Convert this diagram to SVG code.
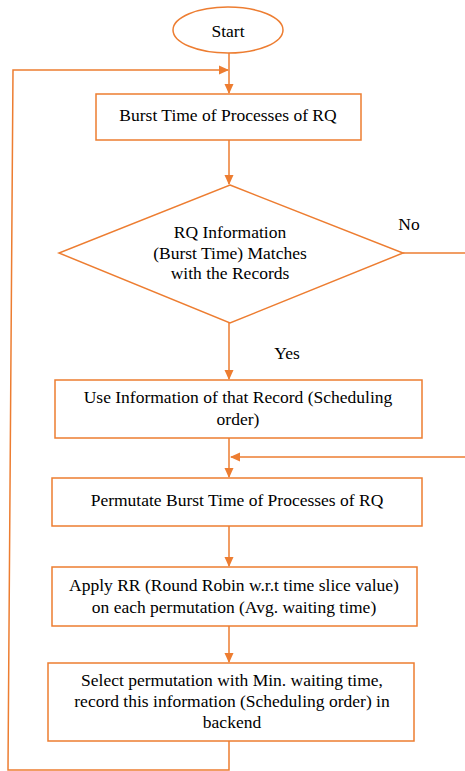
<svg xmlns="http://www.w3.org/2000/svg" width="465" height="771" viewBox="0 0 465 771">
<defs>
<marker id="ah" markerWidth="10" markerHeight="10" refX="9" refY="5" orient="auto" markerUnits="userSpaceOnUse">
<path d="M0,0.5 L10,5 L0,9.5 Z" fill="#ED7D31"/>
</marker>
</defs>
<rect width="465" height="771" fill="#fff"/>
<g id="connectors" fill="none" stroke="#ED7D31" stroke-width="1.5">
<line x1="229" y1="53" x2="229" y2="93" marker-end="url(#ah)"/>
<polyline points="229,741 229,770 8,770 13,70 228,70" marker-end="url(#ah)"/>
<line x1="229" y1="140" x2="229" y2="184" marker-end="url(#ah)"/>
<line x1="229" y1="323" x2="229" y2="379" marker-end="url(#ah)"/>
<polyline points="403,253 465,253"/>
<line x1="465" y1="457" x2="231" y2="457" marker-end="url(#ah)"/>
<line x1="229" y1="438" x2="229" y2="477" marker-end="url(#ah)"/>
<line x1="229" y1="526" x2="229" y2="566" marker-end="url(#ah)"/>
<line x1="229" y1="626" x2="229" y2="662" marker-end="url(#ah)"/>
</g>
<g id="labels">
<text x="409" y="230" font-family="Liberation Serif" font-size="17.5" text-anchor="middle">No</text>
<text x="287" y="359" font-family="Liberation Serif" font-size="17.5" text-anchor="middle">Yes</text>
</g>
<g id="start">
<ellipse cx="228" cy="30" rx="55" ry="23" fill="#fff" stroke="#ED7D31" stroke-width="1.5"/>
<text x="228" y="37" font-family="Liberation Serif" font-size="17.5" text-anchor="middle">Start</text>
</g>
<g id="burst">
<rect x="96" y="94" width="265" height="46" fill="#fff" stroke="#ED7D31" stroke-width="1.5"/>
<text x="228" y="121" font-family="Liberation Serif" font-size="17.5" text-anchor="middle">Burst Time of Processes of RQ</text>
</g>
<g id="decision">
<polygon points="230,185 403,253 230,323 59,253" fill="#fff" stroke="#ED7D31" stroke-width="1.5"/>
<text x="230" y="238" font-family="Liberation Serif" font-size="17.5" text-anchor="middle">RQ Information</text>
<text x="230" y="259" font-family="Liberation Serif" font-size="17.5" text-anchor="middle">(Burst Time) Matches</text>
<text x="230" y="279" font-family="Liberation Serif" font-size="17.5" text-anchor="middle">with the Records</text>
</g>
<g id="use">
<rect x="55" y="380" width="367" height="58" fill="#fff" stroke="#ED7D31" stroke-width="1.5"/>
<text x="238" y="403" font-family="Liberation Serif" font-size="17.5" text-anchor="middle">Use Information of that Record (Scheduling</text>
<text x="238" y="425" font-family="Liberation Serif" font-size="17.5" text-anchor="middle">order)</text>
</g>
<g id="permutate">
<rect x="52" y="478" width="370" height="48" fill="#fff" stroke="#ED7D31" stroke-width="1.5"/>
<text x="237" y="506" font-family="Liberation Serif" font-size="17.5" text-anchor="middle">Permutate Burst Time  of Processes of RQ</text>
</g>
<g id="apply">
<rect x="52" y="567" width="365" height="59" fill="#fff" stroke="#ED7D31" stroke-width="1.5"/>
<text x="234" y="591" font-family="Liberation Serif" font-size="17.5" text-anchor="middle">Apply RR (Round Robin w.r.t time slice value)</text>
<text x="234" y="613" font-family="Liberation Serif" font-size="17.5" text-anchor="middle">on each permutation  (Avg. waiting time)</text>
</g>
<g id="select">
<rect x="48" y="663" width="366" height="78" fill="#fff" stroke="#ED7D31" stroke-width="1.5"/>
<text x="232" y="686" font-family="Liberation Serif" font-size="17.5" text-anchor="middle">Select permutation  with Min. waiting time,</text>
<text x="232" y="707" font-family="Liberation Serif" font-size="17.5" text-anchor="middle">record this information (Scheduling order) in</text>
<text x="232" y="728" font-family="Liberation Serif" font-size="17.5" text-anchor="middle">backend</text>
</g>
</svg>
